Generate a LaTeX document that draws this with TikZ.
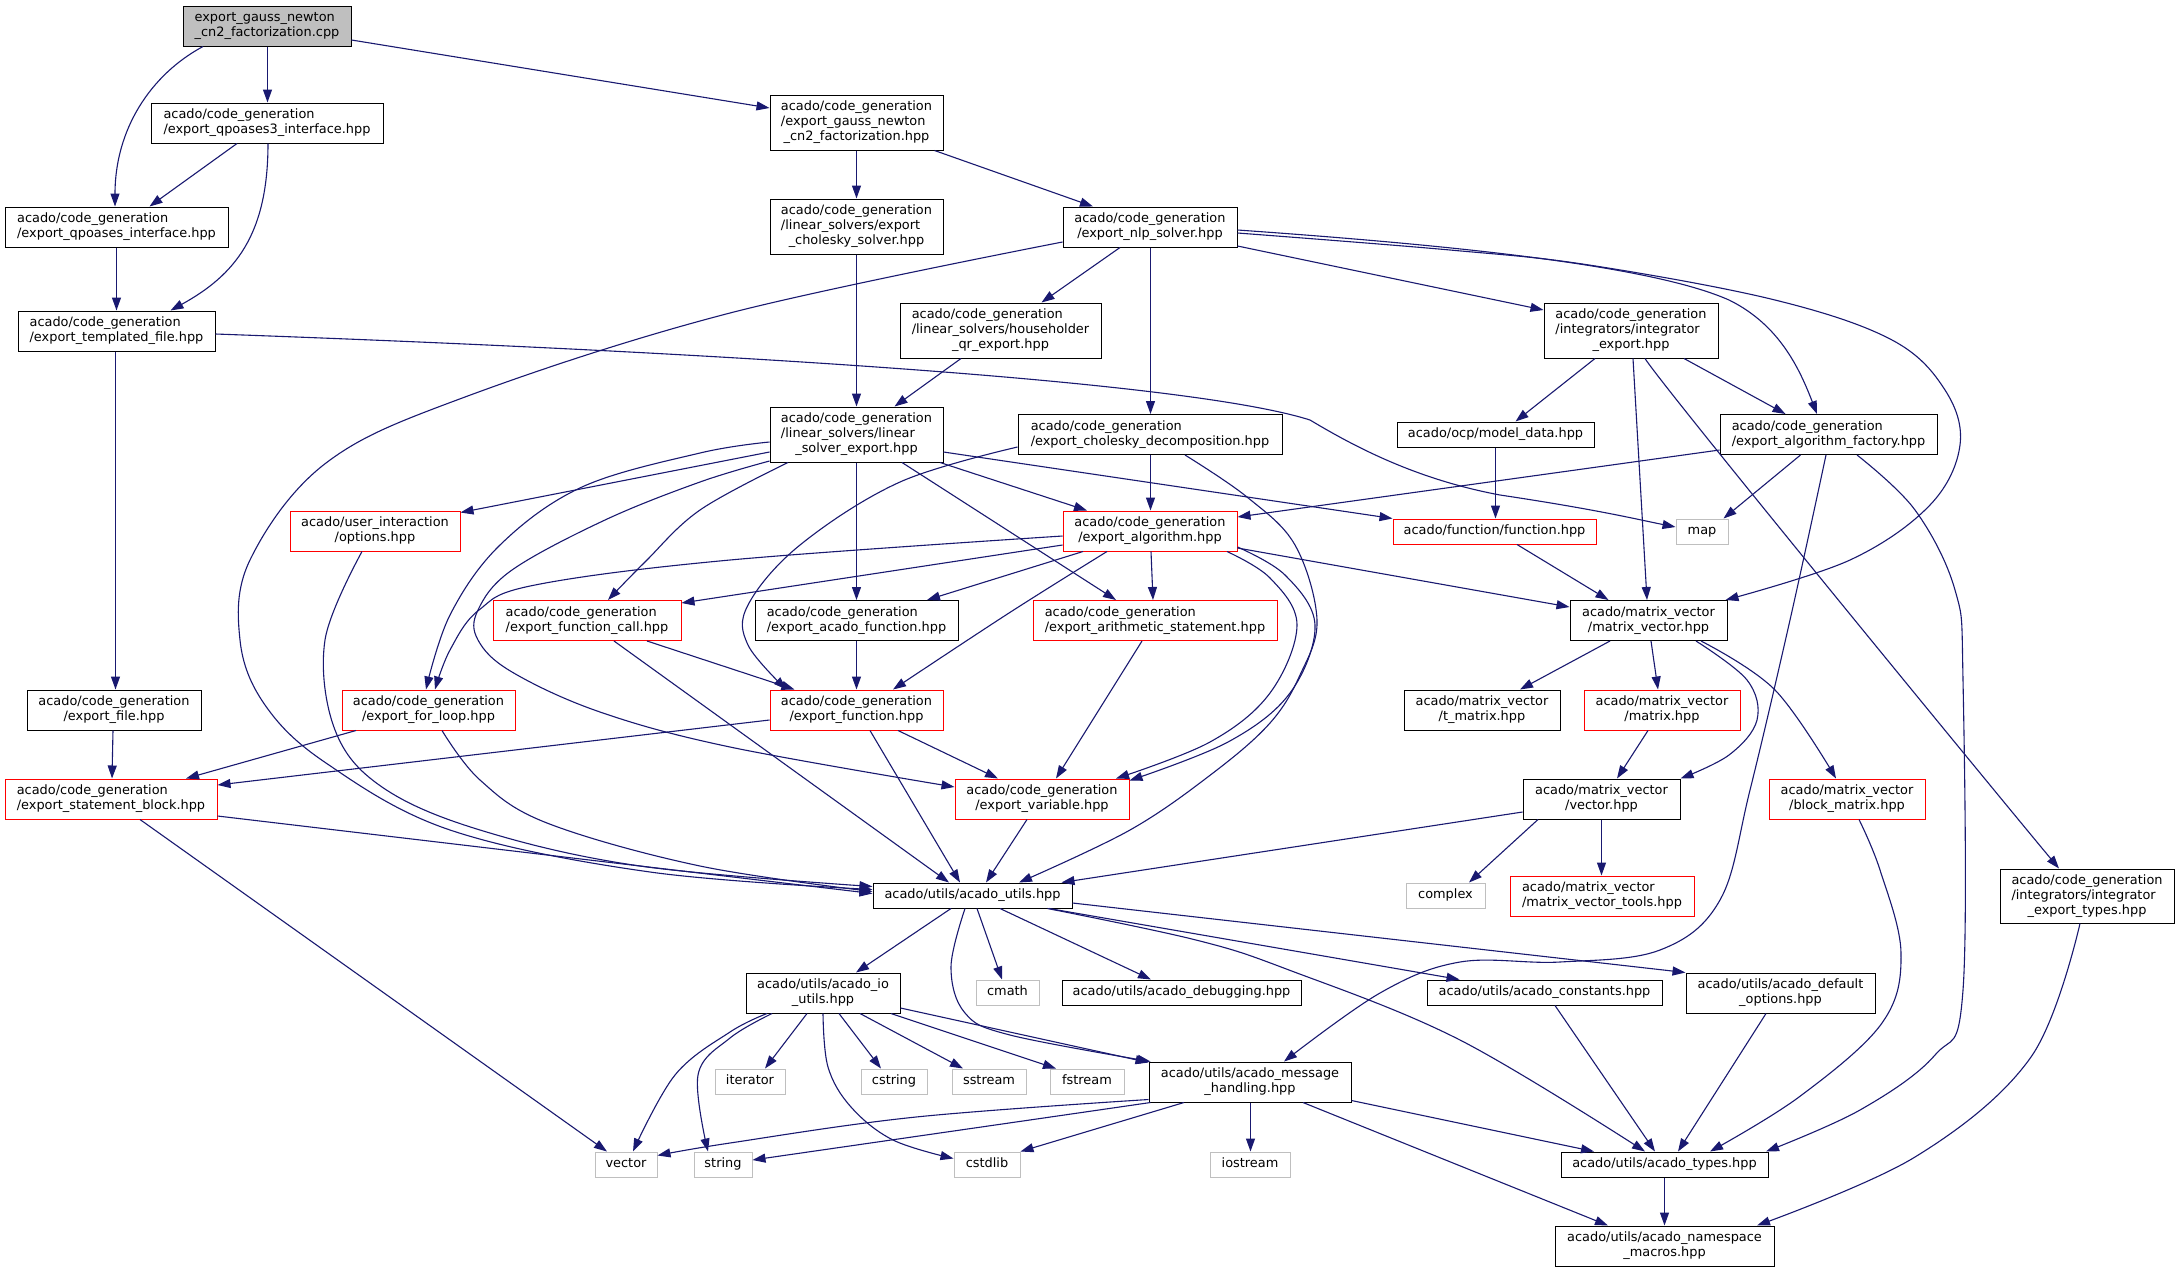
\documentclass[tikz,border=0pt]{standalone}
\usepackage{fontspec}
\setmainfont{DejaVu Sans}
\usetikzlibrary{arrows.meta}
\definecolor{edgec}{HTML}{191970}
\definecolor{gseventy}{HTML}{BFBFBF}
\newcommand\lbA[1]{\begin{tabular}{@{}c@{}}#1\end{tabular}}
\newcommand\lbB[2]{\begin{tabular}{@{}l@{}}#1\\\multicolumn{1}{@{}c@{}}{#2}\end{tabular}}
\newcommand\lbC[3]{\begin{tabular}{@{}l@{}}#1\\#2\\\multicolumn{1}{@{}c@{}}{#3}\end{tabular}}
\begin{document}
\begin{tikzpicture}[x=1pt,y=-1pt,
  base/.style={inner sep=0pt, line width=1pt, fill=white, font=\fontsize{12.9pt}{15pt}\selectfont},
  nb/.style={base, draw=black},
  nr/.style={base, draw=red},
  ng/.style={base, draw=gseventy},
  sz/.style 2 args={minimum width=#1pt, minimum height=#2pt},
  edge/.style={draw=edgec, line width=1.1pt, -{Triangle[length=13pt,width=9pt]}},
  sm/.style={smooth, tension=0.6}
]
\fill[white] (0,0) rectangle (2179,1272);
\useasboundingbox (0,0) rectangle (2179,1272);

% ---------- nodes ----------
\node[nb, fill=gseventy, sz={168}{40}] (root) at (267,26) {\lbB{export\_gauss\_newton}{\_cn2\_factorization.cpp}};
\node[nb, sz={232}{40}] (qp3) at (267,123) {\lbB{acado/code\_generation}{/export\_qpoases3\_interface.hpp}};
\node[nb, sz={223}{40}] (qp) at (116.5,227) {\lbB{acado/code\_generation}{/export\_qpoases\_interface.hpp}};
\node[nb, sz={197}{40}] (tf) at (116.5,331) {\lbB{acado/code\_generation}{/export\_templated\_file.hpp}};
\node[nb, sz={173}{55}] (gnh) at (856.5,122.5) {\lbC{acado/code\_generation}{/export\_gauss\_newton}{\_cn2\_factorization.hpp}};
\node[nb, sz={173}{55}] (chs) at (856.5,226.5) {\lbC{acado/code\_generation}{/linear\_solvers/export}{\_cholesky\_solver.hpp}};
\node[nb, sz={174}{40}] (nlp) at (1150,227) {\lbB{acado/code\_generation}{/export\_nlp\_solver.hpp}};
\node[nb, sz={201}{55}] (hh) at (1000.5,330.5) {\lbC{acado/code\_generation}{/linear\_solvers/householder}{\_qr\_export.hpp}};
\node[nb, sz={173}{55}] (lse) at (856.5,434.5) {\lbC{acado/code\_generation}{/linear\_solvers/linear}{\_solver\_export.hpp}};
\node[nb, sz={264}{40}] (chd) at (1150,434.5) {\lbB{acado/code\_generation}{/export\_cholesky\_decomposition.hpp}};
\node[nb, sz={174}{55}] (ie) at (1631,330.5) {\lbC{acado/code\_generation}{/integrators/integrator}{\_export.hpp}};
\node[nb, sz={197}{25}] (md) at (1495.5,434.5) {\lbA{acado/ocp/model\_data.hpp}};
\node[nb, sz={217}{40}] (eaf) at (1828.5,434.5) {\lbB{acado/code\_generation}{/export\_algorithm\_factory.hpp}};
\node[nr, sz={170}{40}] (ui) at (375,531) {\lbB{acado/user\_interaction}{/options.hpp}};
\node[nr, sz={174}{40}] (ea) at (1150,531) {\lbB{acado/code\_generation}{/export\_algorithm.hpp}};
\node[nr, sz={203}{25}] (func) at (1494.5,531.5) {\lbA{acado/function/function.hpp}};
\node[ng, sz={52}{25}] (map) at (1702,531.5) {\lbA{map}};
\node[nr, sz={188}{40}] (fc) at (587,620.5) {\lbB{acado/code\_generation}{/export\_function\_call.hpp}};
\node[nb, sz={203}{40}] (acf) at (856.5,620.5) {\lbB{acado/code\_generation}{/export\_acado\_function.hpp}};
\node[nr, sz={244}{40}] (ar) at (1155,620.5) {\lbB{acado/code\_generation}{/export\_arithmetic\_statement.hpp}};
\node[nb, sz={157}{40}] (mv) at (1648.5,620.5) {\lbB{acado/matrix\_vector}{/matrix\_vector.hpp}};
\node[nb, sz={174}{40}] (ef) at (114,710) {\lbB{acado/code\_generation}{/export\_file.hpp}};
\node[nr, sz={173}{40}] (fl) at (428.5,710) {\lbB{acado/code\_generation}{/export\_for\_loop.hpp}};
\node[nr, sz={173}{40}] (fn) at (856.5,710) {\lbB{acado/code\_generation}{/export\_function.hpp}};
\node[nb, sz={156}{40}] (tm) at (1482,710) {\lbB{acado/matrix\_vector}{/t\_matrix.hpp}};
\node[nr, sz={156}{40}] (mat) at (1662,710) {\lbB{acado/matrix\_vector}{/matrix.hpp}};
\node[nr, sz={212}{40}] (sb) at (111,799) {\lbB{acado/code\_generation}{/export\_statement\_block.hpp}};
\node[nr, sz={174}{40}] (ev) at (1042,799) {\lbB{acado/code\_generation}{/export\_variable.hpp}};
\node[nb, sz={157}{40}] (vec) at (1601.5,799) {\lbB{acado/matrix\_vector}{/vector.hpp}};
\node[nr, sz={156}{40}] (bm) at (1847,799) {\lbB{acado/matrix\_vector}{/block\_matrix.hpp}};
\node[nb, sz={199}{25}] (au) at (972.5,895.5) {\lbA{acado/utils/acado\_utils.hpp}};
\node[ng, sz={79}{25}] (cplx) at (1445.5,895.5) {\lbA{complex}};
\node[nr, sz={184}{40}] (mvt) at (1602,896) {\lbB{acado/matrix\_vector}{/matrix\_vector\_tools.hpp}};
\node[nb, sz={174}{54}] (iet) at (2087,896) {\lbC{acado/code\_generation}{/integrators/integrator}{\_export\_types.hpp}};
\node[nb, sz={154}{40}] (io) at (823,993) {\lbB{acado/utils/acado\_io}{\_utils.hpp}};
\node[ng, sz={63}{25}] (cmath) at (1007.5,992.5) {\lbA{cmath}};
\node[nb, sz={239}{25}] (dbg) at (1181.5,992.5) {\lbA{acado/utils/acado\_debugging.hpp}};
\node[nb, sz={235}{25}] (cst) at (1544.5,992.5) {\lbA{acado/utils/acado\_constants.hpp}};
\node[nb, sz={189}{40}] (dopt) at (1780.5,993) {\lbB{acado/utils/acado\_default}{\_options.hpp}};
\node[ng, sz={70}{25}] (itr) at (750,1081.5) {\lbA{iterator}};
\node[ng, sz={66}{25}] (cstr) at (894,1081.5) {\lbA{cstring}};
\node[ng, sz={74}{25}] (sstr) at (989,1081.5) {\lbA{sstream}};
\node[ng, sz={74}{25}] (fstr) at (1087,1081.5) {\lbA{fstream}};
\node[nb, sz={202}{40}] (mh) at (1250,1082) {\lbB{acado/utils/acado\_message}{\_handling.hpp}};
\node[ng, sz={62}{25}] (vct) at (626,1164.5) {\lbA{vector}};
\node[ng, sz={58}{25}] (strg) at (723,1164.5) {\lbA{string}};
\node[ng, sz={66}{25}] (cstd) at (987,1164.5) {\lbA{cstdlib}};
\node[ng, sz={80}{25}] (iost) at (1250,1164.5) {\lbA{iostream}};
\node[nb, sz={207}{25}] (types) at (1664.5,1164.5) {\lbA{acado/utils/acado\_types.hpp}};
\node[nb, sz={219}{40}] (ns) at (1664.5,1246) {\lbB{acado/utils/acado\_namespace}{\_macros.hpp}};

% ---------- edges ----------
% root
\draw[edge] ([xshift=-64pt]root.south) .. controls (150,75) and (115,130) .. ([xshift=-1.5pt]qp.north);
\draw[edge] ([xshift=0.5pt]root.south) -- ([xshift=0.5pt]qp3.north);
\draw[edge] ([yshift=-14pt]root.east) -- ([yshift=14.5pt]gnh.west);
% qp3, qp, tf
\draw[edge] ([xshift=-30pt]qp3.south) -- ([xshift=33pt]qp.north);
\draw[edge] ([xshift=1pt]qp3.south) .. controls (268,235) and (235,275) .. ([xshift=54pt]tf.north);
\draw[edge] (qp.south) -- (tf.north);
\draw[edge] ([xshift=-1pt]tf.south) -- ([xshift=1.5pt]ef.north);
\draw[edge] ([yshift=-3pt]tf.east) .. controls (800,355) and (1200,385) .. (1310,420) .. controls (1360,450) and (1420,480) .. (1500,495) .. controls (1600,510) and (1640,520) .. ([yshift=4.5pt]map.west);
% gnh, chs, hh
\draw[edge] (gnh.south) -- (chs.north);
\draw[edge] ([xshift=78pt]gnh.south) -- ([xshift=-57pt]nlp.north);
\draw[edge] (chs.south) -- (lse.north);
\draw[edge] ([xshift=-39.5pt]hh.south) -- ([xshift=38pt]lse.north);
% nlp
\draw[edge] ([xshift=-30pt]nlp.south) -- ([xshift=41pt]hh.north);
\draw[edge] ([xshift=0.5pt]nlp.south) -- ([xshift=0.5pt]chd.north);
\draw[edge] ([yshift=-19pt]nlp.east) -- ([yshift=20.5pt]ie.west);
\draw[edge] ([yshift=-3pt]nlp.east) .. controls (1450,245) and (1650,265) .. (1729,300) .. controls (1780,325) and (1800,370) .. ([xshift=-11.5pt]eaf.north);
\draw[edge] plot[sm] coordinates {([yshift=-6pt]nlp.east) (1450,250) (1589,265) (1775,300) (1892,340) (1945,390) (1960,445) (1930,505) (1850,560) ([xshift=-2pt]mv.north east)};
\draw[edge] plot[sm] coordinates {([yshift=-15pt]nlp.west) (730,313) (465,397) (326,463) (250,560) (240,640) (265,705) (326,763) (450,830) (650,872) ([yshift=6pt]au.west)};
% lse
\draw[edge] ([yshift=-17.5pt]lse.west) -- ([yshift=-2pt]ui.north east);
\draw[edge] plot[sm] coordinates {([yshift=-7.5pt]lse.west) (700,453) (582,487) (500,545) (450,615) ([xshift=-2.5pt]fl.north)};
\draw[edge] plot[sm] coordinates {([yshift=-26.5pt]lse.west) (700,482) (605,520) (512,570) (478,610) (478,640) (512,672) (600,712) (730,747) ([yshift=12pt]ev.west)};
\draw[edge] plot[sm] coordinates {([xshift=-68.5pt]lse.south) (700,510) (645,562) ([xshift=21pt]fc.north)};
\draw[edge] (lse.south) -- (acf.north);
\draw[edge] ([xshift=45.5pt]lse.south) -- ([xshift=-39pt]ar.north);
\draw[edge] ([xshift=83.5pt]lse.south) -- ([xshift=-63pt]ea.north);
\draw[edge] ([yshift=-17.5pt]lse.east) -- (func.north west);
% chd
\draw[edge] ([xshift=0.5pt]chd.south) -- ([xshift=0.5pt]ea.north);
\draw[edge] plot[sm] coordinates {([yshift=-12.5pt]chd.west) (900,482) (800,545) (748,605) (748,645) ([xshift=-70pt]fn.north)};
\draw[edge] plot[sm] coordinates {([xshift=35pt]chd.south) (1247,497) (1295,545) (1317,620) (1300,675) (1270,723) (1213,773) (1130,830) ([xshift=46.5pt]au.north)};
% ie, md, func, eaf
\draw[edge] ([xshift=-36pt]ie.south) -- ([xshift=20pt]md.north);
\draw[edge] ([xshift=2pt]ie.south) -- ([xshift=-1.5pt]mv.north);
\draw[edge] ([xshift=14pt]ie.south) .. controls (1665,390) and (2010,810) .. ([xshift=-28pt]iet.north);
\draw[edge] ([xshift=53pt]ie.south) -- ([xshift=-43pt]eaf.north);
\draw[edge] (md.south) -- ([xshift=1pt]func.north);
\draw[edge] ([xshift=22.5pt]func.south) -- ([xshift=-40pt]mv.north);
\draw[edge] ([yshift=-15.5pt]eaf.west) -- ([yshift=14pt]ea.east);
\draw[edge] ([xshift=-28pt]eaf.south) -- ([xshift=-5pt]map.north east);
\draw[edge] plot[sm] coordinates {([xshift=-2.5pt]eaf.south) (1790,620) (1750,790) (1720,900) (1660,950) (1560,962) (1460,962) (1380,993) ([xshift=34pt]mh.north)};
\draw[edge] plot[sm] coordinates {([xshift=28.5pt]eaf.south) (1915,510) (1955,590) (1963,680) (1963,990) (1935,1055) (1860,1110) ([xshift=101.5pt]types.north)};
% ea
\draw[edge] ([yshift=-17pt]ea.east) -- ([yshift=13.5pt]mv.west);
\draw[edge] ([xshift=-67pt]ea.south) -- ([xshift=70.5pt]acf.north);
\draw[edge] ([xshift=1pt]ea.south) -- ([xshift=-2pt]ar.north);
\draw[edge] plot[sm] coordinates {([xshift=-43pt]ea.south) (1009,613) ([xshift=36.5pt]fn.north)};
\draw[edge] plot[sm] coordinates {([yshift=-5pt]ea.west) (730,560) (535,585) (479,610) (450,650) ([xshift=6.5pt]fl.north)};
\draw[edge] ([yshift=-14pt]ea.west) -- ([yshift=-3pt]fc.north east);
\draw[edge] plot[sm] coordinates {([xshift=77pt]ea.south) (1270,578) (1297,625) (1270,693) (1210,742) ([xshift=74pt]ev.north)};
\draw[edge] plot[sm] coordinates {([yshift=-16pt]ea.east) (1285,575) (1315,625) (1290,693) (1228,742) ([yshift=-2pt]ev.north east)};
% middle level
\draw[edge] (acf.south) -- (fn.north);
\draw[edge] ([xshift=60pt]fc.south) -- ([xshift=-62pt]fn.north);
\draw[edge] ([xshift=27pt]fc.south) -- ([xshift=-23.5pt]au.north);
\draw[edge] ([xshift=-13pt]ar.south) -- ([xshift=14pt]ev.north);
\draw[edge] ([xshift=41.5pt]fn.south) -- ([xshift=-44pt]ev.north);
\draw[edge] ([xshift=13.5pt]fn.south) -- ([xshift=-12.5pt]au.north);
\draw[edge] ([yshift=-10pt]fn.west) -- ([yshift=14pt]sb.east);
\draw[edge] ([xshift=-15pt]ev.south) -- ([xshift=13.5pt]au.north);
\draw[edge] plot[sm] coordinates {([xshift=-13pt]ui.south) (325,640) (335,730) (382,787) (480,830) (640,866) ([yshift=9pt]au.west)};
\draw[edge] ([xshift=-72.5pt]fl.south) -- ([xshift=75pt]sb.north);
\draw[edge] plot[sm] coordinates {([xshift=13.5pt]fl.south) (480,780) (547,823) (700,866) ([yshift=4pt]au.west)};
\draw[edge] ([xshift=-1pt]ef.south) -- ([xshift=1pt]sb.north);
\draw[edge] ([yshift=-17pt]sb.east) -- ([yshift=2pt]au.west);
\draw[edge] ([xshift=29pt]sb.south) -- ([xshift=-19pt]vct.north);
% matrix_vector
\draw[edge] ([xshift=-38.5pt]mv.south) -- ([xshift=38pt]tm.north);
\draw[edge] ([xshift=2.5pt]mv.south) -- ([xshift=-4pt]mat.north);
\draw[edge] plot[sm] coordinates {([xshift=47.5pt]mv.south) (1747,680) (1757,720) (1729,755) (vec.north east)};
\draw[edge] plot[sm] coordinates {([xshift=52.5pt]mv.south) (1775,690) ([xshift=-11pt]bm.north)};
\draw[edge] ([xshift=-14pt]mat.south) -- ([xshift=15.5pt]vec.north);
\draw[edge] ([xshift=-63.5pt]vec.south) -- ([xshift=23.5pt]cplx.north);
\draw[edge] (vec.south) -- ([xshift=-0.5pt]mvt.north);
\draw[edge] ([yshift=-13pt]vec.west) -- ([xshift=-11pt]au.north east);
\draw[edge] plot[sm] coordinates {([xshift=12pt]bm.south) (1880,870) (1901,953) (1882,1023) (1799,1097) ([xshift=45.5pt]types.north)};
% utils
\draw[edge] ([xshift=-21.5pt]au.south) -- ([xshift=33pt]io.north);
\draw[edge] ([xshift=4.5pt]au.south) -- ([xshift=-5.5pt]cmath.north);
\draw[edge] ([xshift=27.5pt]au.south) -- ([xshift=-30.5pt]dbg.north);
\draw[edge] ([xshift=76.5pt]au.south) -- ([xshift=33pt]cst.north west);
\draw[edge] ([yshift=-7.5pt]au.east) -- (dopt.north west);
\draw[edge] plot[sm] coordinates {([xshift=75pt]au.south) (1196,940) (1289,970) (1460,1040) ([xshift=-19.5pt]types.north)};
\draw[edge] plot[sm] coordinates {([xshift=-7.5pt]au.south) (951,967) (965,1013) (1010,1035) ([xshift=2pt]mh.north west)};
\draw[edge] ([yshift=-15pt]io.east) -- ([yshift=-1pt]mh.north west);
\draw[edge] ([xshift=-16pt]io.south) -- ([xshift=15pt]itr.north);
\draw[edge] ([xshift=16pt]io.south) -- ([xshift=-13pt]cstr.north);
\draw[edge] ([xshift=37pt]io.south) -- ([xshift=-26pt]sstr.north);
\draw[edge] ([xshift=68pt]io.south) -- ([xshift=-31pt]fstr.north);
\draw[edge] plot[sm] coordinates {(io.south) (828,1067) (851,1107) (893,1140) ([yshift=6pt]cstd.west)};
\draw[edge] plot[sm] coordinates {([xshift=-56pt]io.south) (730,1032) (675,1075) ([xshift=7pt]vct.north)};
\draw[edge] plot[sm] coordinates {([xshift=-51pt]io.south) (730,1038) (698,1075) ([xshift=-15pt]strg.north)};
\draw[edge] plot[sm] coordinates {([yshift=3pt]mh.south west) (916,1117) (730,1143) ([yshift=9pt]vct.east)};
\draw[edge] plot[sm] coordinates {([xshift=2pt]mh.south west) (1009,1123) ([yshift=4.5pt]strg.east)};
\draw[edge] ([xshift=-66pt]mh.south) -- (cstd.north east);
\draw[edge] ([xshift=0.5pt]mh.south) -- ([xshift=0.5pt]iost.north);
\draw[edge] ([yshift=2pt]mh.south east) -- ([xshift=-70.5pt]types.north);
\draw[edge] ([xshift=53pt]mh.south) -- ([xshift=-56.5pt]ns.north);
\draw[edge] ([xshift=10.5pt]cst.south) -- ([xshift=-9.5pt]types.north);
\draw[edge] ([xshift=-14.5pt]dopt.south) -- ([xshift=13.5pt]types.north);
\draw[edge] (types.south) -- (ns.north);
\draw[edge] plot[sm] coordinates {([xshift=-7pt]iet.south) (2031,1057) (1915,1157) ([xshift=92.5pt]ns.north)};
\end{tikzpicture}
\end{document}
